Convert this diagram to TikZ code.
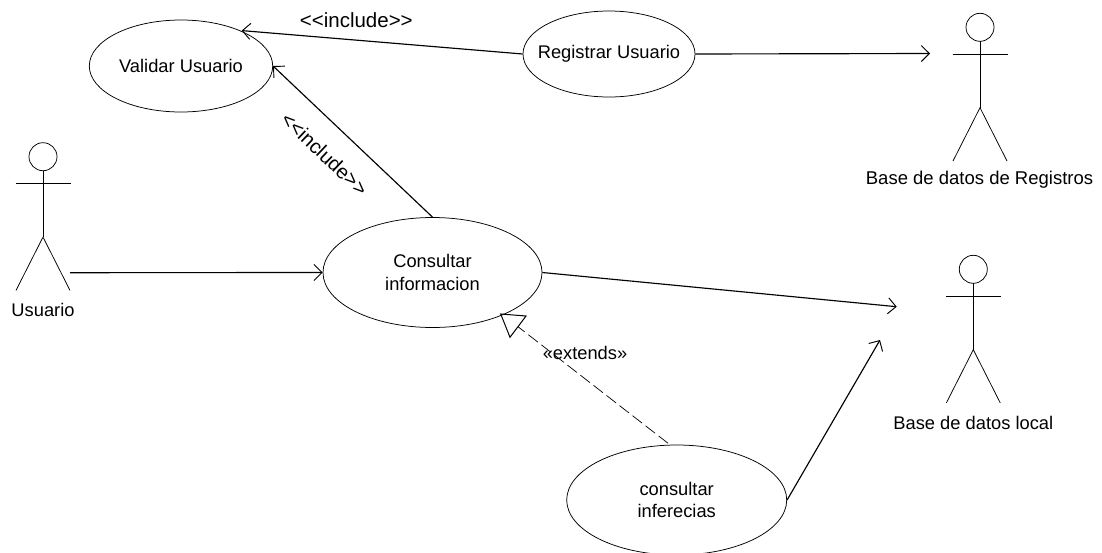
\documentclass[tikz,border=0pt]{standalone}
\usepackage{fontspec}
\setmainfont{Liberation Sans}
\usetikzlibrary{arrows.meta,shapes.geometric}
\tikzset{
 px/.style={x=1pt,y=-1pt},
 usecase/.style={draw,ellipse,line width=0.75pt,inner sep=0pt,align=center,
   font=\fontsize{18.3}{22.5}\selectfont},
 lbl/.style={font=\fontsize{18.3}{22.5}\selectfont,align=center,inner sep=0pt},
 stereo/.style={font=\fontsize{20.5}{24}\selectfont,inner sep=0pt},
 conn/.style={line width=1.15pt,-{Straight Barb[length=8pt,width=16pt,line width=0.95pt]}},
 ext/.style={line width=0.7pt,dash pattern=on 12pt off 4.5pt},
 actorline/.style={line width=0.75pt},
 hollowtip/.style={line width=1pt,line join=miter}
}
\newcommand{\actorfig}[2]{% x, head-centre y
 \draw[actorline] (#1,#2) circle[radius=14];
 \draw[actorline] (#1,#2+14) -- (#1,#2+80.4);
 \draw[actorline] (#1-27.5,#2+26.7) -- (#1+27.5,#2+26.7);
 \draw[actorline] (#1-27,#2+133.7) -- (#1,#2+80.4) -- (#1+27,#2+133.7);
}
\newcommand{\dbllt}{<\kern0pt<}
\newcommand{\dblgt}{>\kern0pt>}
\begin{document}
\begin{tikzpicture}[px]
\useasboundingbox (0,0) rectangle (1102,552);
\begin{scope}
\clip (0,0) rectangle (1102,552);
\actorfig{43}{156.7}
\actorfig{980}{27.3}
\actorfig{973.3}{269.3}
\node[lbl] (lu) at (43,310) {Usuario};
\node[lbl] (lr) at (979.5,180) {\fontsize{18.5}{22.5}\selectfont Base de datos de Registros};
\node[lbl] (ll) at (973.3,422.7) {Base de datos local};
\node[usecase,minimum width=183.4pt,minimum height=92pt] (validar) at (181,66) {\makebox[0pt]{Validar Usuario}};
\node[usecase,minimum width=172pt,minimum height=86pt] (registrar) at (609,54) {\makebox[0pt]{Registrar Usuario}};
\node[usecase,minimum width=219pt,minimum height=110pt] (consultar) at (432.5,272.5) {Consultar\\informacion};
\node[usecase,minimum width=220pt,minimum height=110pt] (inferencias) at (676.7,500) {consultar\\inferecias};
\coordinate (usuarioend) at (70,272.7);
\coordinate (regend) at (930,53.5);
\coordinate (locend) at (896.7,306.7);
\coordinate (infend) at (880,340);
\coordinate (tipa) at (500.7,314);
\coordinate (tipb) at (526,316);
\coordinate (tipc) at (510,337.3);
\coordinate (tipm) at (518,326.7);
\draw[conn] (usuarioend) -- (consultar.west);
\draw[conn,shorten >=1.5pt] (registrar.west) -- (validar.31);
\draw[conn] (consultar.north) -- (validar.east);
\draw[conn] (registrar.east) -- (regend);
\draw[conn] (consultar.east) -- (locend);
\draw[conn] (inferencias.east) -- (infend);
\draw[ext,shorten <=2.3pt] (inferencias.97) -- (tipm);
\draw[hollowtip] (tipa) -- (tipb) -- (tipc) -- cycle;
\node[stereo] (inc1) at (356.3,20) {\dbllt include\dblgt};
\node[stereo,rotate=-43.5,font=\fontsize{20}{24}\selectfont] (inc2) at (324.5,154) {\dbllt include\dblgt};
\node[lbl] (ex) at (585,353) {«extends»};
\end{scope}
\end{tikzpicture}
\end{document}
